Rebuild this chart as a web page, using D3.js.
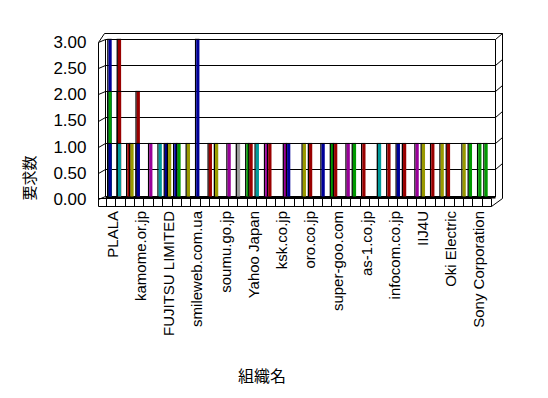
<!DOCTYPE html>
<html>
<head>
<meta charset="utf-8">
<script src="https://d3js.org/d3.v7.min.js"></script>
<style>
  body { margin: 0; background: #fff; }
  text { font-family: "Liberation Sans", Arial, sans-serif; fill: #000; }
  .jp { font-family: "Noto Sans CJK JP", sans-serif; }
</style>
</head>
<body>
<svg id="chart" width="548" height="398"></svg>
<script>
// 41 organisations, only every third name is printed on the axis
var orgLabels = ["PLALA", "", "", "kamome.or.jp", "", "", "FUJITSU LIMITED", "", "",
  "smileweb.com.ua", "", "", "soumu.go.jp", "", "", "Yahoo Japan", "", "",
  "ksk.co.jp", "", "", "oro.co.jp", "", "", "super-goo.com", "", "",
  "as-1.co.jp", "", "", "infocom.co.jp", "", "", "IIJ4U", "", "",
  "Oki Electric", "", "", "Sony Corporation", ""];
var yTicks = [0, 0.5, 1, 1.5, 2, 2.5, 3];

// one entry per drawn column (drawn back to front)
var barCategory = [0, 0, 0, 1, 1, 1, 2, 2, 3, 3, 4, 5, 6, 6, 7, 7, 8, 9, 10, 11, 12, 13, 14, 15, 15, 16, 17,
  18, 19, 20, 21, 22, 23, 24, 25, 26, 27, 28, 29, 30, 31, 32, 33, 34, 35, 36, 37, 38, 39, 40];
var barSeries = [0, 0, 0, 0, 0, 0, 0, 1, 0, 0, 1, 1, 0, 1, 0, 1, 1, 1, 2, 1, 2, 2, 2, 0, 2, 2, 0,
  2, 0, 2, 1, 2, 2, 0, 1, 0, 0, 2, 2, 2, 1, 2, 1, 1, 1, 0, 2, 1, 1, 0];
var barValue = [3, 2, 1, 3, 2, 1, 1, 1, 2, 1, 1, 1, 1, 1, 1, 1, 1, 3, 1, 1, 1, 1, 1, 1, 1, 1, 1,
  1, 1, 1, 1, 1, 1, 1, 1, 1, 1, 1, 1, 1, 1, 1, 1, 1, 1, 1, 1, 1, 1, 1];
var barColor = ["navy", "green", "navy", "maroon", "maroon", "teal", "maroon", "olive", "maroon", "navy",
  "purple", "teal", "navy", "olive", "navy", "green", "olive", "navy", "maroon", "olive", "purple",
  "gray", "green", "maroon", "teal", "purple", "maroon", "purple", "navy", "olive", "maroon", "navy",
  "green", "maroon", "purple", "green", "maroon", "teal", "maroon", "navy", "maroon", "purple", "olive",
  "maroon", "olive", "maroon", "olive", "green", "green", "green"];
var palette = { navy: "#000099", maroon: "#990000", teal: "#009999", olive: "#999900",
  purple: "#990099", green: "#009900", gray: "#999999" };

var svg = d3.select("#chart");

var x = d3.scaleBand().domain(d3.range(orgLabels.length)).range([105.8, 491.2]);
var xSub = d3.scaleBand().domain([0, 1, 2]).range([0, x.bandwidth()]);
var yFront = d3.scaleLinear().domain([0, 3]).range([198.7, 42.3]);
var yBack = d3.scaleLinear().domain([0, 3]).range([195.5, 39.3]);
var shift = 2.7;

var frame = svg.append("g").attr("stroke", "#000").attr("stroke-width", 1).attr("fill", "none");

// back wall grid
frame.selectAll(".grid").data(yTicks).enter().append("line")
  .attr("x1", 105.5).attr("x2", 495.5)
  .attr("y1", function (d) { return Math.round(yBack(d)) + 0.5; })
  .attr("y2", function (d) { return Math.round(yBack(d)) + 0.5; });
// left wall
frame.selectAll(".lw").data(yTicks).enter().append("line")
  .attr("x1", 98.5).attr("x2", 105.5)
  .attr("y1", function (d) { return Math.round(yFront(d)) + 0.5; })
  .attr("y2", function (d) { return Math.round(yBack(d)) + 0.5; });
// right wall
frame.selectAll(".rw").data(yTicks.slice(1)).enter().append("line")
  .attr("x1", 495.5).attr("x2", 502.5)
  .attr("y1", function (d) { return Math.round(yBack(d)) + 0.5; })
  .attr("y2", function (d) { return Math.round(yBack(d)) - 5.5; });

frame.append("path").attr("d",
  "M98.5,206.5 V42.5 L104.5,33.5 H502.5 V198.5 L491.5,206.5 H98.5" +
  " M105.5,39.5 V196 M495.5,39.5 V197 M98.5,198.5 H491.5 V206.5");

// floor front cells
frame.selectAll(".cell").data(x.domain()).enter().append("line")
  .attr("x1", function (d) { return Math.round(x(d)) + 0.5; })
  .attr("x2", function (d) { return Math.round(x(d)) + 0.5; })
  .attr("y1", 198.5).attr("y2", 206.5);

svg.append("rect").attr("x", 105.5).attr("y", 196).attr("width", 390).attr("height", 2.5).attr("fill", "#000");

// columns
var bars = svg.append("g").selectAll("g").data(barValue).enter().append("g");
function left(d, i) { return x(barCategory[i]) + xSub(barSeries[i]) + shift; }
bars.append("rect")
  .attr("x", function (d, i) { return left(d, i) - 1.3; })
  .attr("y", function (d) { return yBack(d); })
  .attr("width", 1.3)
  .attr("height", function (d) { return yBack(0) - yBack(d) + 1; })
  .attr("fill", "#000");
bars.append("rect")
  .attr("x", left)
  .attr("y", function (d) { return yBack(d); })
  .attr("width", 3.2)
  .attr("height", function (d) { return yBack(0) - yBack(d) + 1; })
  .attr("fill", function (d, i) { return palette[barColor[i]]; });
bars.append("rect")
  .attr("x", function (d, i) { return left(d, i) - 1.3; })
  .attr("y", function (d) { return yBack(d) - 0.5; })
  .attr("width", 4.5).attr("height", 1)
  .attr("fill", "#000");

// y tick labels
svg.selectAll(".yt").data(yTicks).enter().append("text")
  .attr("x", 86.5).attr("y", function (d) { return yFront(d); })
  .attr("dy", "0.35em").attr("text-anchor", "end")
  .style("font-size", "17px")
  .text(function (d) { return d.toFixed(2); });

// category labels
svg.selectAll(".xt").data(x.domain().filter(function (d) { return orgLabels[d] !== ""; }))
  .enter().append("text")
  .attr("transform", function (d) { return "translate(" + (x(d) + x.bandwidth() / 2 + 2) + ",211) rotate(-90)"; })
  .attr("dy", "0.35em").attr("text-anchor", "end")
  .style("font-size", "15px")
  .text(function (d) { return orgLabels[d]; });

svg.append("text").attr("class", "jp")
  .attr("transform", "translate(30,178) rotate(-90)")
  .attr("text-anchor", "middle").attr("dy", "0.35em")
  .style("font-size", "15px").text("要求数");
svg.append("text").attr("class", "jp")
  .attr("x", 262).attr("y", 376)
  .attr("text-anchor", "middle").attr("dy", "0.35em")
  .style("font-size", "16px").text("組織名");
</script>
</body>
</html>
